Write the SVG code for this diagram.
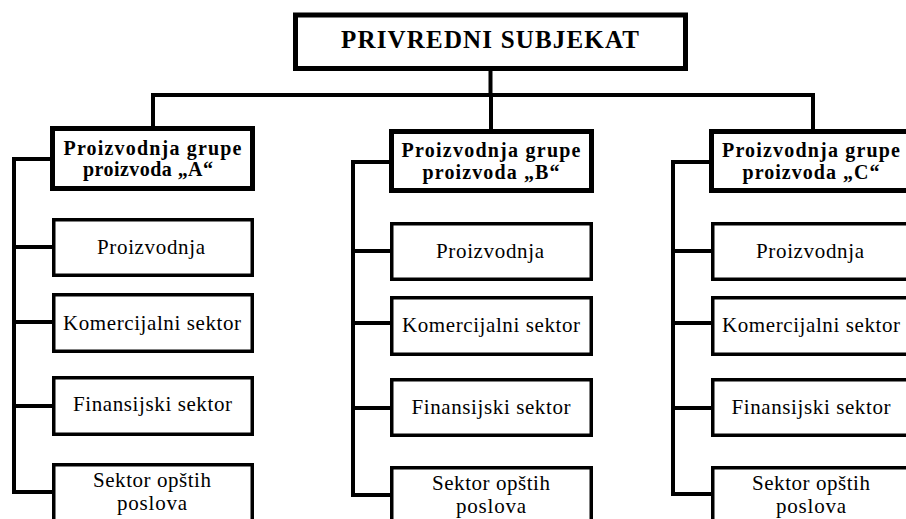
<svg xmlns="http://www.w3.org/2000/svg" width="906" height="519" viewBox="0 0 906 519">
  <!-- connectors: one stroke style shared by the whole group -->
  <g id="connectors" fill="none" stroke="#000" stroke-width="4" stroke-linecap="square">
    <!-- trunk and main bar -->
    <path d="M490.5 71 V95 M153 95 H813 M153 95 V128 M491 95 V130 M813 95 V130"/>
    <!-- column A spine -->
    <path d="M50 159 H14 V492 H52 M14 247 H52 M14 322 H52 M14 406 H52"/>
    <!-- column B spine -->
    <path d="M389 162 H353 V495 H390 M353 251 H390 M353 323 H390 M353 408 H390"/>
    <!-- column C spine -->
    <path d="M709 162 H673 V494 H711 M673 251 H711 M673 323 H711 M673 408 H711"/>
  </g>

  <g id="nodes" font-family="Liberation Serif" text-anchor="middle">
    <!-- head node -->
    <g id="privredni-subjekat" font-weight="bold" font-size="25">
      <rect x="295.5" y="15" width="390" height="53.5" fill="#fff" stroke="#000" stroke-width="5"/>
      <text x="490" y="48" textLength="298">PRIVREDNI SUBJEKAT</text>
    </g>

    <!-- group boxes: heavy border, bold caption -->
    <g font-weight="bold" font-size="20">
      <g id="grupa-a">
        <rect x="52.5" y="128.5" width="200" height="60" fill="#fff" stroke="#000" stroke-width="5"/>
        <text x="152.5" y="155" textLength="178">Proizvodnja grupe</text>
        <text x="148" y="176" textLength="130">proizvoda „A“</text>
      </g>
      <g id="grupa-b">
        <rect x="391.5" y="131.5" width="200" height="59" fill="#fff" stroke="#000" stroke-width="5"/>
        <text x="491" y="157" textLength="179">Proizvodnja grupe</text>
        <text x="491" y="179" textLength="137">proizvoda „B“</text>
      </g>
      <g id="grupa-c">
        <rect x="711.5" y="131.5" width="200" height="59" fill="#fff" stroke="#000" stroke-width="5"/>
        <text x="811" y="157" textLength="178">Proizvodnja grupe</text>
        <text x="811" y="179" textLength="137">proizvoda „C“</text>
      </g>
    </g>

    <!-- department boxes: lighter border, regular caption -->
    <g font-size="21">
      <g id="a-proizvodnja">
        <rect x="53.75" y="219.75" width="198.5" height="55.5" fill="#fff" stroke="#000" stroke-width="3.5"/>
        <text x="151" y="254" textLength="108">Proizvodnja</text>
      </g>
      <g id="a-komercijalni">
        <rect x="53.75" y="294.75" width="198.5" height="56.5" fill="#fff" stroke="#000" stroke-width="3.5"/>
        <text x="152" y="330" textLength="178">Komercijalni sektor</text>
      </g>
      <g id="a-finansijski">
        <rect x="53.75" y="377.75" width="198.5" height="56.5" fill="#fff" stroke="#000" stroke-width="3.5"/>
        <text x="152.5" y="411" textLength="159">Finansijski sektor</text>
      </g>
      <g id="a-opsti">
        <rect x="53.75" y="464.75" width="198.5" height="70" fill="#fff" stroke="#000" stroke-width="3.5"/>
        <text x="152" y="487" textLength="118">Sektor opštih</text>
        <text x="152" y="510" textLength="70">poslova</text>
      </g>

      <g id="b-proizvodnja">
        <rect x="391.75" y="223.75" width="199.5" height="55.5" fill="#fff" stroke="#000" stroke-width="3.5"/>
        <text x="490" y="258" textLength="108">Proizvodnja</text>
      </g>
      <g id="b-komercijalni">
        <rect x="391.75" y="297.75" width="199.5" height="56.5" fill="#fff" stroke="#000" stroke-width="3.5"/>
        <text x="491" y="332" textLength="178">Komercijalni sektor</text>
      </g>
      <g id="b-finansijski">
        <rect x="391.75" y="379.75" width="199.5" height="55.5" fill="#fff" stroke="#000" stroke-width="3.5"/>
        <text x="491" y="414" textLength="159">Finansijski sektor</text>
      </g>
      <g id="b-opsti">
        <rect x="391.75" y="467.75" width="199.5" height="70" fill="#fff" stroke="#000" stroke-width="3.5"/>
        <text x="491" y="490" textLength="118">Sektor opštih</text>
        <text x="491" y="513" textLength="70">poslova</text>
      </g>

      <g id="c-proizvodnja">
        <rect x="712.75" y="223.75" width="199.5" height="55.5" fill="#fff" stroke="#000" stroke-width="3.5"/>
        <text x="810" y="258" textLength="108">Proizvodnja</text>
      </g>
      <g id="c-komercijalni">
        <rect x="712.75" y="297.75" width="199.5" height="56.5" fill="#fff" stroke="#000" stroke-width="3.5"/>
        <text x="811" y="332" textLength="178">Komercijalni sektor</text>
      </g>
      <g id="c-finansijski">
        <rect x="712.75" y="379.75" width="199.5" height="55.5" fill="#fff" stroke="#000" stroke-width="3.5"/>
        <text x="811" y="414" textLength="159">Finansijski sektor</text>
      </g>
      <g id="c-opsti">
        <rect x="712.75" y="467.75" width="199.5" height="70" fill="#fff" stroke="#000" stroke-width="3.5"/>
        <text x="811" y="490" textLength="118">Sektor opštih</text>
        <text x="811" y="513" textLength="70">poslova</text>
      </g>
    </g>
  </g>
</svg>
